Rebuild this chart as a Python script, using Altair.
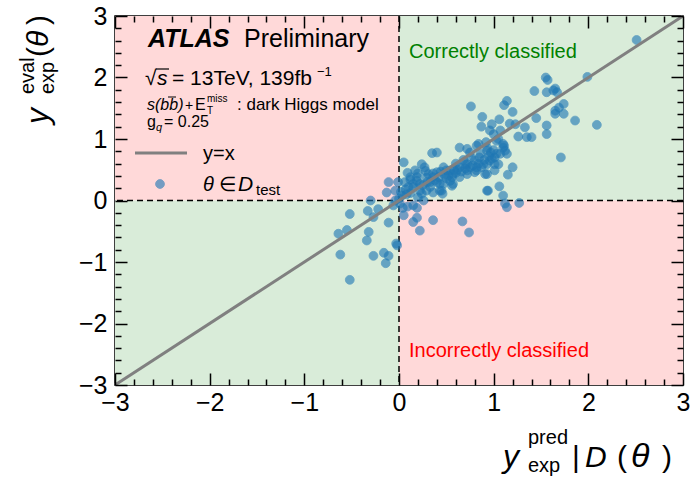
import altair as alt
import pandas as pd

FONT = "Liberation Sans"
LEFT, TOP, W, H = 115, 16, 568, 369

# predicted vs. evaluated expected significance for the test points
y_pred = [
    2.51, 1.99, 1.55, 1.57, 1.65, 1.63, 1.67, 1.43, 1.56,
    1.74, 1.69, 1.65, 1.65, 1.74, 1.86, 2.09, 1.71,
    1.56, 1.56, 1.45, 0.76, 1.14, 1.11, 1.20,
    0.88, 0.87, 0.98, 1.06, 1.17, 1.23, 1.33, 1.26, 1.35, 1.40,
    0.96, 1.00, 1.07, 1.03, 1.10,
    0.64, 0.72, 0.84, 0.93, 0.97, 1.01, 1.07, 1.11, 1.12,
    0.35, 0.40, 0.80, 0.91, 0.98, 0.82, 0.70,
    1.20, 1.15, 0.94, 1.06, 1.10, 1.27, 1.14, 0.05,
    0.24, 0.27, 0.17, 0.12, 0.19, 0.22, 0.31, 0.36, 0.40, 0.47, 0.54, 0.56, 0.57, 0.47,
    0.43, 0.36, 0.29, 0.24, 0.15, 0.10,
    0.64, 0.72, 0.75, 0.80, 0.87, 0.93, 1.01,
    0.12, 0.19, 0.29, 0.36, 0.44, 0.50, 0.57, 0.62, 0.72, 0.75, 0.82, 0.86, 0.93, 0.89,
    0.96, 1.03, 1.10, 1.14, 1.05, 1.01, 0.93, 0.82, 0.72, 0.64, 0.54, 0.43, 0.33, 0.22,
    0.15, 0.07, 0.20, 0.26, 0.45, 0.56, 0.93, 1.12, 0.01, 0.15, 0.46,
    0.30, 0.38, 0.42, 0.48, 0.52, 0.60, 0.66, 0.70, 0.78, 0.84, 0.90, 0.95, 0.25, 0.33,
    0.40, 0.50, 0.58, 0.68, 0.76, 0.85, 0.20, 0.28, 0.06, 0.09, 0.12, 0.02, 1.00, 1.05,
    0.92, 0.60,
    -0.11, -0.13, -0.04, -0.01,
    -0.30, -0.33, -0.22, -0.27, -0.52, -0.55, -0.64, -0.32, -0.34, -0.11, -0.03, -0.02,
    -0.62, -0.27, -0.16, -0.11, -0.14, -0.52,
    0.05, 0.15, 0.22, 0.19, 0.36, 0.67, 0.74, 0.09, 0.19,
    0.00, -0.04, 0.04, 0.03, 0.08, -0.06,
]
y_eval = [
    2.61, 2.01, 2.00, 1.96, 1.82, 1.79, 1.76, 1.78, 1.76,
    1.57, 1.51, 1.46, 1.41, 1.41, 1.30, 1.23, 0.70,
    1.22, 1.08, 1.34, 1.53, 1.62, 1.55, 1.44,
    1.36, 1.20, 1.24, 1.32, 1.25, 1.24, 1.19, 1.04, 1.03, 1.03,
    1.14, 1.08, 1.14, 0.97, 0.92,
    0.86, 0.84, 0.92, 0.86, 0.78, 0.70, 0.76, 0.89, 0.81,
    0.77, 0.78, 0.65, 0.43, 0.68, 0.54, 0.59,
    0.54, 0.42, 0.16, 0.23, 0.08, -0.04, -0.11, 0.62,
    0.59, 0.54, 0.49, 0.38, 0.38, 0.27, 0.43, 0.38, 0.46, 0.54, 0.49, 0.38, 0.27, 0.27,
    0.16, 0.13, 0.16, 0.11, 0.27, 0.22,
    0.54, 0.49, 0.54, 0.46, 0.54, 0.59, 0.59,
    0.34, 0.32, 0.37, 0.44, 0.47, 0.49, 0.43, 0.50, 0.59, 0.78, 0.89, 0.76, 0.81, 0.59,
    0.65, 0.76, 0.86, 0.76, 0.59, 0.49, 0.43, 0.49, 0.43, 0.38, 0.32, 0.27, 0.22, 0.16,
    0.22, 0.18, 0.05, 0.00, 0.16, 0.24, 0.16, -0.05, -0.05, -0.08, 0.11,
    0.30, 0.33, 0.38, 0.42, 0.40, 0.45, 0.47, 0.52, 0.57, 0.60, 0.66, 0.72, 0.25, 0.30,
    0.30, 0.36, 0.50, 0.66, 0.70, 0.70, 0.44, 0.48, 0.30, 0.45, 0.12, 0.14, 0.82, 1.00,
    0.95, 0.60,
    0.30, 0.13, 0.16, 0.30,
    0.00, -0.17, -0.14, -0.27, -0.22, -0.48, -0.54, -0.51, -0.65, -0.36, -0.70, -0.73,
    -0.88, -0.90, -0.85, -0.90, -1.02, -1.29,
    -0.24, -0.35, -0.49, -0.28, -0.32, -0.34, -0.52, -0.10, -0.12,
    0.03, 0.00, -0.12, 0.08, 0.10, -0.08,
]

major_ticks = [-3, -2, -1, 0, 1, 2, 3]
minor_ticks = [-2.8, -2.6, -2.4, -2.2, -1.8, -1.6, -1.4, -1.2, -0.8, -0.6, -0.4, -0.2,
               0.2, 0.4, 0.6, 0.8, 1.2, 1.4, 1.6, 1.8, 2.2, 2.4, 2.6, 2.8]

# quadrants: sign agreement (green) or disagreement (red)
quad_x1 = [-3, 0, -3, 0]
quad_x2 = [0, 3, 0, 3]
quad_y1 = [0, 0, -3, -3]
quad_y2 = [3, 3, 0, 0]
quad_fill = ["#ffd9d9", "#d9ecd9", "#d9ecd9", "#ffd9d9"]

diag = [-3, 3]
LO, HI = -3, 3

xs = alt.Scale(domain=[LO, HI], nice=False, zero=False)
ys = alt.Scale(domain=[LO, HI], nice=False, zero=False)
one = pd.DataFrame({"k": [0]})


def label_axis(orient, pad):
    return alt.Axis(orient=orient, values=major_ticks, ticks=False, domain=False, grid=False,
                    title=None, labelFont=FONT, labelFontSize=25, labelColor="black",
                    labelPadding=pad, labelFlush=False, labelOverlap=False, labelBound=False)


def tick_axis(orient, vals, size):
    # inward ticks: the axis is pulled into the plot by its own tick length
    return alt.Axis(orient=orient, values=vals, tickSize=size, offset=-size, tickColor="black",
                    tickWidth=1.5, labels=False, domain=False, grid=False, title=None, zindex=2)


quads = alt.Chart(pd.DataFrame({"x1": quad_x1, "x2": quad_x2, "y1": quad_y1,
                                "y2": quad_y2, "fill": quad_fill})).mark_rect().encode(
    x=alt.X("x1:Q", scale=xs, axis=None), x2="x2",
    y=alt.Y("y1:Q", scale=ys, axis=None), y2="y2",
    color=alt.Color("fill:N", scale=None),
)

vline = alt.Chart(pd.DataFrame({"v": [0]})).mark_rule(
    color="black", strokeWidth=1.5, strokeDash=[6, 4]).encode(
    x=alt.X("v:Q", scale=xs, axis=None))
hline = alt.Chart(pd.DataFrame({"v": [0]})).mark_rule(
    color="black", strokeWidth=1.5, strokeDash=[6, 4]).encode(
    y=alt.Y("v:Q", scale=ys, axis=None))

points = alt.Chart(pd.DataFrame({"pred": y_pred, "ev": y_eval})).mark_circle(
    size=78, color="#1f77b4", opacity=0.62, stroke="#1f77b4", strokeWidth=1, strokeOpacity=0.85
).encode(
    x=alt.X("pred:Q", scale=xs, axis=label_axis("bottom", 5)),
    y=alt.Y("ev:Q", scale=ys, axis=label_axis("left", 8)),
)

diag_line = alt.Chart(pd.DataFrame({"a": diag, "b": diag})).mark_line(
    color="#808080", strokeWidth=3).encode(
    x=alt.X("a:Q", scale=xs, axis=None), y=alt.Y("b:Q", scale=ys, axis=None))


def tick_layer(vals, size, xorient, yorient):
    return alt.Chart(pd.DataFrame({"v": vals})).mark_point(opacity=0).encode(
        x=alt.X("v:Q", scale=xs, axis=tick_axis(xorient, vals, size)),
        y=alt.Y("v:Q", scale=ys, axis=tick_axis(yorient, vals, size)),
    )


tick_layers = [
    tick_layer(major_ticks, 12, "bottom", "left"),
    tick_layer(major_ticks, 12, "top", "right"),
    tick_layer(minor_ticks, 6, "bottom", "left"),
    tick_layer(minor_ticks, 6, "top", "right"),
]


def label(txt, x, y, size, color="black", style="normal", weight="normal", angle=0):
    return alt.Chart(one).mark_text(
        text=txt, align="left", baseline="alphabetic", font=FONT, fontSize=size,
        fontStyle=style, fontWeight=weight, color=color, angle=angle,
    ).encode(x=alt.value(x - LEFT), y=alt.value(y - TOP))


def bar(x1, x2, y, width=1.2):
    return alt.Chart(one).mark_rule(color="black", strokeWidth=width).encode(
        x=alt.value(x1 - LEFT), x2=alt.value(x2 - LEFT), y=alt.value(y - TOP))


texts = [
    label("ATLAS", 148, 47, 25, style="italic", weight="bold"),
    label("Preliminary", 244, 47, 25),
    label("\u221a", 145, 85, 21),
    bar(156, 169, 69),
    label("s", 157, 85, 21, style="italic"),
    label("= 13TeV, 139fb", 172, 85, 21),
    label("\u22121", 317, 76, 13),
    label("s(bb)", 147, 110, 16, style="italic"),
    bar(168, 176, 97, 1),
    label("+", 185, 110, 14),
    label("E", 195, 110, 16),
    label("miss", 207, 102, 10),
    label("T", 207, 114, 10),
    label(":  dark Higgs model", 237, 110, 17),
    label("g", 147, 127, 16),
    label("q", 156, 131, 11, style="italic"),
    label("= 0.25", 164, 127, 16),
    label("y=x", 203, 160, 20),
    label("\u03b8", 203, 191, 20, style="italic"),
    label("\u2208", 219, 191, 20),
    label("D", 238, 191, 21, style="italic"),
    label("test", 256, 195, 15),
    label("Correctly classified", 409, 58, 20, color="#008000"),
    label("Incorrectly classified", 409, 357, 20, color="#ff0000"),
    # x-axis title
    label("y", 503, 467, 32, style="italic"),
    label("pred", 528, 444, 20),
    label("exp", 528, 472, 20),
    label("|", 572, 467, 30),
    label("D", 585, 467, 30, style="italic"),
    label("(", 617, 467, 30),
    label("\u03b8", 631, 467, 34, style="italic"),
    label(")", 662, 467, 30),
    # y-axis title (rotated)
    label("y", 48, 124, 32, style="italic", angle=270),
    label("exp", 54, 94, 20, angle=270),
    label("eval", 34, 94, 20, angle=270),
    label("(", 48, 57, 30, angle=270),
    label("\u03b8", 48, 47, 30, style="italic", angle=270),
    label(")", 48, 25, 30, angle=270),
]

legend_line = alt.Chart(one).mark_rule(color="#808080", strokeWidth=3).encode(
    x=alt.value(135 - LEFT), x2=alt.value(187 - LEFT), y=alt.value(153 - TOP))
legend_dot = alt.Chart(one).mark_circle(
    size=78, color="#1f77b4", opacity=0.62, stroke="#1f77b4", strokeWidth=1, strokeOpacity=0.85
).encode(x=alt.value(160 - LEFT), y=alt.value(184 - TOP))

chart = alt.layer(
    quads, vline, hline, points, diag_line, *tick_layers,
    legend_line, legend_dot, *texts,
).resolve_axis(x="independent", y="independent").properties(
    width=W, height=H,
    autosize=alt.AutoSizeParams(type="none"),
    padding={"left": LEFT, "top": TOP, "right": 693 - LEFT - W, "bottom": 478 - TOP - H},
).configure_view(stroke="black", strokeWidth=1.5)

chart.save("out.html", embed_options={"renderer": "svg", "actions": False})
